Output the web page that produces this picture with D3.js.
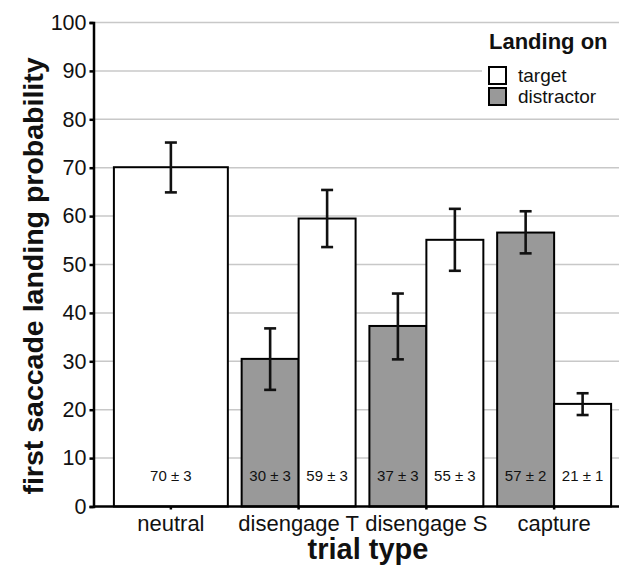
<!DOCTYPE html>
<html><head><meta charset="utf-8">
<script src="https://cdn.jsdelivr.net/npm/d3@7"></script>
<style>body{margin:0;background:#fff}svg{display:block}text{font-family:"Liberation Sans",Arial,sans-serif}</style>
</head><body><svg id="c" width="619" height="569"></svg>
<script>
const categories = ["neutral","disengage T","disengage S","capture"];
const targetValues = [70.1, 59.5, 55.1, 21.2];
const targetLow = [64.9, 53.6, 48.7, 18.9];
const targetHigh = [75.2, 65.4, 61.5, 23.4];
const distractorValues = [null, 30.5, 37.3, 56.6];
const distractorLow = [null, 24.1, 30.4, 52.3];
const distractorHigh = [null, 36.8, 44.0, 61.0];
const targetLabels = ["70 ± 3","59 ± 3","55 ± 3","21 ± 1"];
const distractorLabels = [null,"30 ± 3","37 ± 3","57 ± 2"];
const yTicks = [0,10,20,30,40,50,60,70,80,90,100];
const seriesNames = ["target","distractor"];
const seriesColors = ["#ffffff","#999999"];

const svg = d3.select("#c");
const axisX = 93.5, right = 619;
const x = d3.scaleBand().domain(categories).range([107, 618]).padding(0);
const y = d3.scaleLinear().domain([0,100]).range([506.5, 22.5]);
const inset = 6.9;

// gridlines
svg.append("g").selectAll("line").data(yTicks.filter(d=>d>0)).join("line")
  .attr("x1", axisX).attr("x2", right).attr("y1", d=>y(d)).attr("y2", d=>y(d))
  .attr("stroke","#c8c8c8").attr("stroke-width",1.5);

// build bar records
const bars = [];
categories.forEach((c,i)=>{
  const x0 = x(c)+inset, w = x.bandwidth()-2*inset;
  if (distractorValues[i]==null) {
    bars.push({x:x0, w:w, v:targetValues[i], lo:targetLow[i], hi:targetHigh[i], lab:targetLabels[i], fill:seriesColors[0]});
  } else {
    const sub = d3.scaleBand().domain(["distractor","target"]).range([x0, x0+w]);
    bars.push({x:sub("distractor"), w:sub.bandwidth(), v:distractorValues[i], lo:distractorLow[i], hi:distractorHigh[i], lab:distractorLabels[i], fill:seriesColors[1]});
    bars.push({x:sub("target"), w:sub.bandwidth(), v:targetValues[i], lo:targetLow[i], hi:targetHigh[i], lab:targetLabels[i], fill:seriesColors[0]});
  }
});

svg.append("g").selectAll("rect").data(bars).join("rect")
  .attr("x", d=>d.x).attr("width", d=>d.w).attr("y", d=>y(d.v)).attr("height", d=>y(0)-y(d.v))
  .attr("fill", d=>d.fill).attr("stroke","#000").attr("stroke-width",2);

// error bars
const eb = svg.append("g").attr("stroke","#111").attr("stroke-width",2.6);
bars.forEach(d=>{
  const cx = d.x + d.w/2;
  eb.append("line").attr("x1",cx).attr("x2",cx).attr("y1",y(d.lo)).attr("y2",y(d.hi));
  eb.append("line").attr("x1",cx-6).attr("x2",cx+6).attr("y1",y(d.lo)).attr("y2",y(d.lo));
  eb.append("line").attr("x1",cx-6).attr("x2",cx+6).attr("y1",y(d.hi)).attr("y2",y(d.hi));
});

// value labels
svg.append("g").selectAll("text").data(bars).join("text")
  .attr("x", d=>d.x+d.w/2).attr("y", y(5.3)).attr("text-anchor","middle")
  .attr("font-size",15).attr("fill","#111").text(d=>d.lab);

// y axis
const yAxis = svg.append("g").attr("transform",`translate(${axisX},0)`)
  .call(d3.axisLeft(y).tickValues(yTicks).tickSize(4).tickPadding(3));
yAxis.select(".domain").attr("stroke","#000").attr("stroke-width",2.5);
yAxis.selectAll(".tick line").attr("stroke","#000").attr("stroke-width",2.5);
yAxis.selectAll(".tick text").attr("font-size",21.5).attr("fill","#111");

// x axis
const xAxis = svg.append("g").attr("transform",`translate(0,${y(0)})`)
  .call(d3.axisBottom(x).tickSize(3).tickPadding(6).tickSizeOuter(0));
xAxis.select(".domain").attr("d",`M${axisX},0H${right}`).attr("stroke","#000").attr("stroke-width",2.5);
xAxis.selectAll(".tick line").attr("stroke","#000").attr("stroke-width",2.5);
xAxis.selectAll(".tick text").attr("font-size",22).attr("fill","#111");

// axis titles
svg.append("text").attr("x", 368).attr("y", 559).attr("text-anchor","middle")
  .attr("font-size",29).attr("font-weight","bold").attr("fill","#111").text("trial type");
svg.append("text").attr("transform","translate(43,276) rotate(-90)").attr("text-anchor","middle")
  .attr("font-size",28.5).attr("font-weight","bold").attr("fill","#111").text("first saccade landing probability");

// legend
const lg = svg.append("g");
lg.append("rect").attr("x",482).attr("y",27).attr("width",137).attr("height",85).attr("fill","#fff");
lg.append("text").attr("x",489).attr("y",49).attr("font-size",22).attr("font-weight","bold").attr("fill","#111").text("Landing on");
seriesNames.forEach((s,i)=>{
  lg.append("rect").attr("x",489).attr("y",67+i*21).attr("width",17).attr("height",17)
    .attr("fill",seriesColors[i]).attr("stroke","#000").attr("stroke-width",2);
  lg.append("text").attr("x",518).attr("y",81.5+i*21.5).attr("font-size",19).attr("fill","#111").text(s);
});
</script></body></html>
